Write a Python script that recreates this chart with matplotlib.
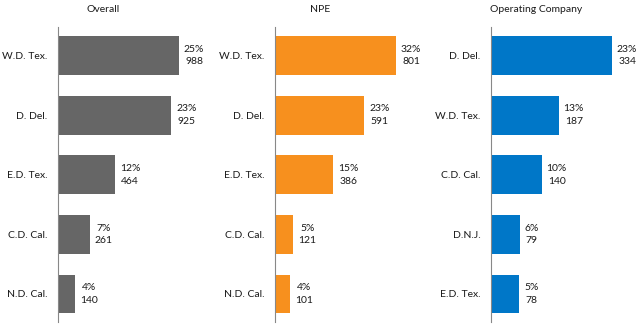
import matplotlib
matplotlib.use("Agg")
import matplotlib.pyplot as plt

plt.rcParams["font.family"] = ["Lato", "DejaVu Sans"]

titles = ["Overall", "NPE", "Operating Company"]

overall_labels = ["W.D. Tex.", "D. Del.", "E.D. Tex.", "C.D. Cal.", "N.D. Cal."]
overall_counts = [988, 925, 464, 261, 140]
overall_pcts = [25, 23, 12, 7, 4]

npe_labels = ["W.D. Tex.", "D. Del.", "E.D. Tex.", "C.D. Cal.", "N.D. Cal."]
npe_counts = [801, 591, 386, 121, 101]
npe_pcts = [32, 23, 15, 5, 4]

opco_labels = ["D. Del.", "W.D. Tex.", "C.D. Cal.", "D.N.J.", "E.D. Tex."]
opco_counts = [334, 187, 140, 79, 78]
opco_pcts = [23, 13, 10, 6, 5]

colors = ["#666666", "#F7901E", "#0077C8"]

panels = [
    (overall_labels, overall_counts, overall_pcts),
    (npe_labels, npe_counts, npe_pcts),
    (opco_labels, opco_counts, opco_pcts),
]

fig = plt.figure(figsize=(6.4, 3.32), dpi=100)

lefts = [58, 275, 491]
ax_w = 130
fs = 7.5
for i, (labels, counts, pcts) in enumerate(panels):
    ax = fig.add_axes([lefts[i] / 640, 1 - 322 / 332, ax_w / 640, 295 / 332])
    ypos = list(range(len(labels)))
    ax.barh(ypos, counts, height=0.65, color=colors[i])
    ax.set_ylim(4.47, -0.48)
    xmax = max(counts) * ax_w / 121
    ax.set_xlim(0, xmax)
    for y, c, p in zip(ypos, counts, pcts):
        ax.annotate(f"{p}%\n{c}", (c, y), xytext=(3.5, 0), textcoords="offset points",
                    ha="left", va="center", multialignment="center",
                    fontsize=fs, color="#1a1a1a", linespacing=1.5)
    ax.set_yticks(ypos)
    ax.set_yticklabels(labels, fontsize=fs, color="#1a1a1a")
    ax.tick_params(axis="y", length=0, pad=7.5)
    ax.set_xticks([])
    for s in ["top", "right", "bottom"]:
        ax.spines[s].set_visible(False)
    ax.spines["left"].set_color("#888888")
    ax.spines["left"].set_linewidth(0.8)
    ax.set_title(titles[i], x=45 / ax_w, fontsize=fs, color="#1a1a1a", pad=11)

fig.savefig("out.png", dpi=100)
